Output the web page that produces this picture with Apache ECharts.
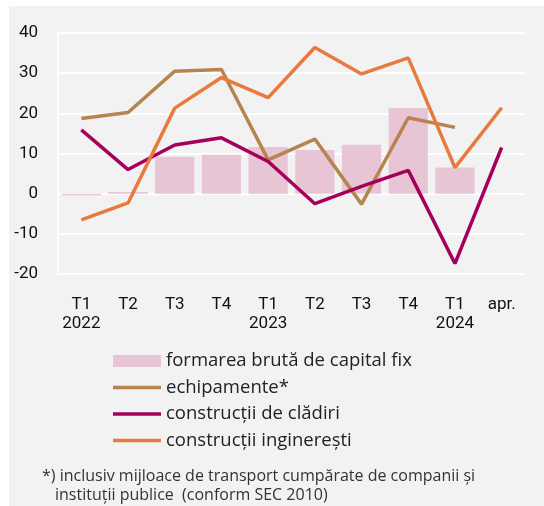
<!DOCTYPE html>
<html>
<head>
<meta charset="utf-8">
<script src="https://cdn.jsdelivr.net/npm/echarts@6/dist/echarts.min.js"></script>
<style>
  html, body { margin: 0; padding: 0; background: #fff; }
  #panel { position: absolute; left: 9px; top: 6px; width: 535px; height: 500px; background: #f2f2f2; }
  #chart { position: absolute; left: 0; top: 0; width: 544px; height: 506px; }
</style>
</head>
<body>
<div id="panel"></div>
<div id="chart"></div>
<script>
/* axis categories */
const quarters = ['T1', 'T2', 'T3', 'T4', 'T1', 'T2', 'T3', 'T4', 'T1', 'apr.'];
const years = ['2022', '', '', '', '2023', '', '', '', '2024', ''];

/* series values, % */
const capitalFix = [-0.4, 0.4, 9.2, 9.7, 11.6, 10.9, 12.2, 21.3, 6.5, null];
const echipamente = [18.7, 20.2, 30.5, 30.9, 8.4, 13.6, -2.6, 18.9, 16.5, null];
const cladiri = [15.9, 6.0, 12.1, 13.9, 8.0, -2.5, 1.8, 5.8, -17.4, 11.5];
const ingineresti = [-6.5, -2.3, 21.3, 28.9, 23.9, 36.4, 29.8, 33.8, 6.5, 21.4];

const yTicks = { min: -20, max: 40, interval: 10 };

const names = [
  'formarea brută de capital fix',
  'echipamente*',
  'construcții de clădiri',
  'construcții inginerești'
];

const footnote = [
  '*) inclusiv mijloace de transport cumpărate de companii și',
  'instituții publice  (conform SEC 2010)'
];

let categories = quarters.map((q, i) => years[i] ? q + '\n' + years[i] : q);

let narrow = 'Roboto, "DejaVu Sans", sans-serif';
let humanist = '"Open Sans", "Noto Sans", sans-serif';

/* thin horizontal band inside a 48x12 box, used as the line legend icon */
let lineIcon = 'path://M0,0L48,0L48,0.01Z M0,4.25L48,4.25L48,7.75L0,7.75Z M0,11.99L48,12L0,12Z';

let chart = echarts.init(document.getElementById('chart'));

function lineSeries(name, data, color) {
  return {
    name: name,
    type: 'line',
    data: data,
    symbol: 'none',
    lineStyle: { color: color, width: 3.5 },
    itemStyle: { color: color }
  };
}

let option = {
  animation: false,
  grid: { left: 58, right: 19, top: 33, bottom: 232 },
  xAxis: {
    type: 'category',
    data: categories,
    axisLine: { show: false },
    axisTick: { show: false },
    axisLabel: {
      interval: 0,
      color: '#111',
      fontFamily: narrow,
      fontSize: 17,
      lineHeight: 19,
      margin: 21
    }
  },
  yAxis: {
    type: 'value',
    min: yTicks.min,
    max: yTicks.max,
    interval: yTicks.interval,
    axisLine: { show: true, lineStyle: { color: '#fff', width: 2 } },
    axisTick: { show: false },
    splitLine: { lineStyle: { color: '#fff', width: 2 } },
    axisLabel: {
      color: '#111',
      fontFamily: narrow,
      fontSize: 17,
      margin: 20
    }
  },
  legend: {
    orient: 'vertical',
    left: 113,
    top: 351,
    padding: 0,
    itemWidth: 48,
    itemHeight: 12,
    itemGap: 6.5,
    textStyle: {
      color: '#222',
      fontFamily: humanist,
      fontSize: 18.5,
      lineHeight: 20
    },
    data: [
      { name: names[0], icon: 'rect' },
      { name: names[1], icon: lineIcon },
      { name: names[2], icon: lineIcon },
      { name: names[3], icon: lineIcon }
    ]
  },
  graphic: [
    {
      type: 'text',
      left: 42,
      top: 468,
      style: { text: footnote[0], fill: '#333', font: '16px ' + humanist }
    },
    {
      type: 'text',
      left: 55,
      top: 487,
      style: { text: footnote[1], fill: '#333', font: '16px ' + humanist }
    }
  ],
  series: [
    {
      name: names[0],
      type: 'bar',
      data: capitalFix,
      barCategoryGap: '16%',
      itemStyle: { color: '#e8c5d5' }
    },
    lineSeries(names[1], echipamente, '#b5844f'),
    lineSeries(names[2], cladiri, '#a6005c'),
    lineSeries(names[3], ingineresti, '#e97a3e')
  ]
};

chart.setOption(option);
</script>
</body>
</html>
